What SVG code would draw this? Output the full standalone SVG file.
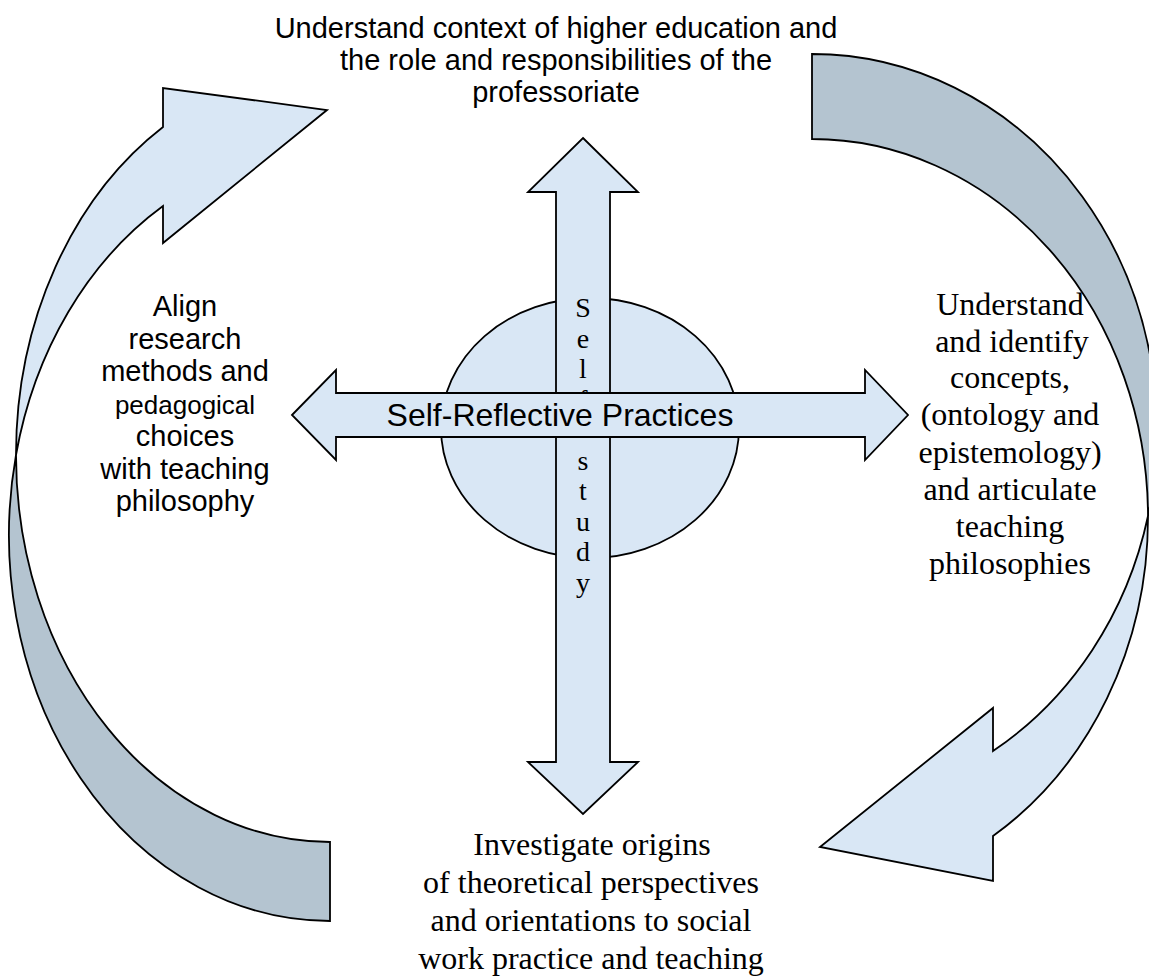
<svg xmlns="http://www.w3.org/2000/svg" width="1149" height="979" viewBox="0 0 1149 979">
<style>
.light{fill:#d9e7f5;stroke:#000;stroke-width:1.8;stroke-linejoin:miter}
.dark{fill:#b4c4d0;stroke:#000;stroke-width:1.8;stroke-linejoin:miter}
.sans{font-family:"Liberation Sans",Arial,sans-serif;fill:#000;text-anchor:middle}
.serif{font-family:"Liberation Serif","Times New Roman",serif;fill:#000;text-anchor:middle}
</style>
<rect width="1149" height="979" fill="#fff"/>
<g id="connectors">
  <g id="left-curved-arrow">
    <path class="dark" d="M 330 842 L 330 921 A 321 385.65 0 0 1 16 455 A 314 387.15 0 0 0 330 842 Z"/>
    <path class="light" d="M 16 455 A 314 387.15 0 0 1 163 127 L 163 88 L 327 110 L 163 243 L 163 206 A 321 385.65 0 0 0 16 455 Z"/>
  </g>
  <g id="right-curved-arrow">
    <path class="dark" d="M 812 54 A 345 376.5 0 0 1 1148 516 A 336 378.3 0 0 0 812 139 Z"/>
    <path class="light" d="M 1148 516 A 336 378.3 0 0 1 993 836 L 993 881 L 820 847 L 993 708 L 993 751 A 345 376.5 0 0 0 1148 516 Z"/>
  </g>
</g>
<g id="node-center">
  <ellipse class="light" cx="590" cy="428" rx="149" ry="130"/>
  <g id="self-study-arrow">
    <path class="light" d="M 583 138 L 638 192 L 610 192 L 610 762 L 638 762 L 583 814 L 528 762 L 556 762 L 556 192 L 528 192 Z"/>
    <g class="serif" font-size="28">
      <text x="583" y="317">S</text>
      <text x="583" y="347.5">e</text>
      <text x="583" y="378">l</text>
      <text x="583" y="408.5">f</text>
      <text x="583" y="439">-</text>
      <text x="583" y="469.5">s</text>
      <text x="583" y="500">t</text>
      <text x="583" y="530.5">u</text>
      <text x="583" y="561">d</text>
      <text x="583" y="591.5">y</text>
    </g>
  </g>
  <g id="self-reflective-arrow">
    <path class="light" d="M 292 415 L 336 370 L 336 393 L 865 393 L 865 370 L 908 415 L 865 460 L 865 437 L 336 437 L 336 460 Z"/>
    <text class="sans" x="560" y="426" font-size="32">Self-Reflective Practices</text>
  </g>
</g>
<g id="node-top" class="sans" font-size="29">
  <text x="556" y="38">Understand context of higher education and</text>
  <text x="556" y="70">the role and responsibilities of the</text>
  <text x="556" y="102">professoriate</text>
</g>
<g id="node-left" class="sans" font-size="29">
  <text x="185" y="316">Align</text>
  <text x="185" y="348.5">research</text>
  <text x="185" y="381">methods and</text>
  <text x="185" y="413.5" font-size="26">pedagogical</text>
  <text x="185" y="446">choices</text>
  <text x="185" y="478.5">with teaching</text>
  <text x="185" y="511">philosophy</text>
</g>
<g id="node-right" class="serif" font-size="32">
  <text x="1010" y="315">Understand</text>
  <text x="1012" y="352">and identify</text>
  <text x="1010" y="388">concepts,</text>
  <text x="1010" y="425">(ontology and</text>
  <text x="1010" y="463">epistemology)</text>
  <text x="1010" y="500">and articulate</text>
  <text x="1010" y="537">teaching</text>
  <text x="1010" y="574">philosophies</text>
</g>
<g id="node-bottom" class="serif" font-size="32">
  <text x="592" y="855">Investigate origins</text>
  <text x="591" y="893">of theoretical perspectives</text>
  <text x="591" y="931">and orientations to social</text>
  <text x="591" y="969">work practice and teaching</text>
</g>
</svg>
